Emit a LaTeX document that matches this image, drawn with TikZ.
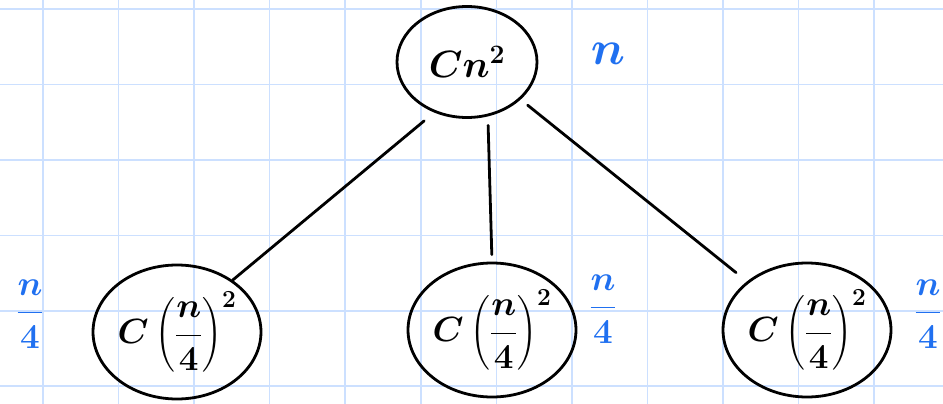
\RequirePackage{fix-cm}
\documentclass[tikz,border=0pt]{standalone}
\usepackage{amsmath}
\usepackage{tikz}
\usetikzlibrary{shapes.geometric}
\definecolor{penblue}{RGB}{32,112,240}
\definecolor{gridblue}{RGB}{204,224,255}
\tikzstyle{costnode} = [
  ellipse, draw=black, line width=2.8pt, inner sep=0pt,
  minimum width=164pt, minimum height=134pt,
  font=\fontsize{35}{40}\selectfont\boldmath
]
\tikzstyle{sizelabel} = [text=penblue, font=\fontsize{35}{40}\selectfont\boldmath]
\tikzstyle{edge} = [line width=2.8pt, line cap=round]
\tikzstyle{gridline} = [gridblue, line width=1.6pt]

\begin{document}
\begin{tikzpicture}[x=1pt, y=-1pt]
  \useasboundingbox (0,0) rectangle (943,404);

  % Grid paper
  \foreach \i in {0,...,11}
    \draw[gridline] ({43+75.55*\i}, 0) -- ({43+75.55*\i}, 404);
  \foreach \j in {0,...,5}
    \draw[gridline] (0, {9+75.45*\j}) -- (943, {9+75.45*\j});

  % Cost nodes
  \node[costnode, minimum width=140pt, minimum height=111pt, font=\fontsize{38}{42}\selectfont\boldmath] (root) at (467, 62) {$Cn^2$};
  \node[costnode] (left) at (177, 332) {$C\left(\dfrac{n}{4}\right)^{2}$};
  \node[costnode] (mid) at (492, 330) {$C\left(\dfrac{n}{4}\right)^{2}$};
  \node[costnode] (right) at (807, 330) {$C\left(\dfrac{n}{4}\right)^{2}$};

  % Problem sizes
  \node[sizelabel, font=\fontsize{48}{52}\selectfont\boldmath] (rootsize) at (608, 54) {$n$};
  \node[sizelabel] (leftsize) at (30, 314) {$\dfrac{n}{4}$};
  \node[sizelabel] (midsize) at (603, 309) {$\dfrac{n}{4}$};
  \node[sizelabel] (rightsize) at (928, 314) {$\dfrac{n}{4}$};

  % Edges
  \draw[edge, shorten <=13pt] (root.237) -- (left.43);
  \draw[edge, shorten <=9pt, shorten >=7pt] (root.291) -- (mid.north);
  \draw[edge, shorten <=9pt, shorten >=14pt] (root.325) -- (right.141);

\end{tikzpicture}
\end{document}
